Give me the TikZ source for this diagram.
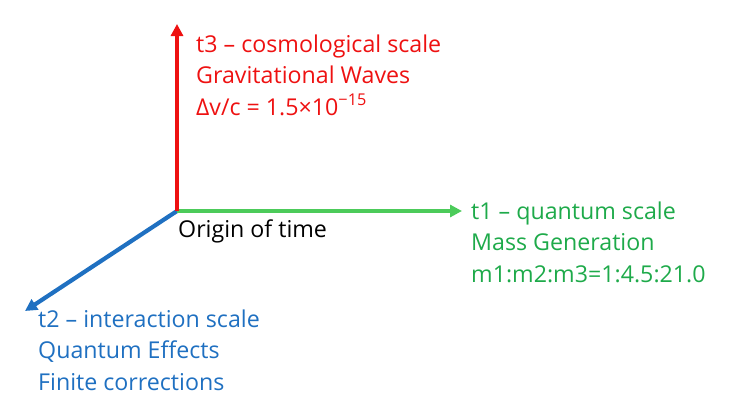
\documentclass[tikz,border=0pt]{standalone}
\usepackage{fontspec}
\setmainfont{Open Sans}
\usetikzlibrary{arrows.meta}
\definecolor{cosmored}{HTML}{EE1111}
\definecolor{quantgreen}{HTML}{4CCB5A}
\definecolor{quanttext}{HTML}{1EAA4A}
\definecolor{interblue}{HTML}{1F70C1}
\begin{document}
\begin{tikzpicture}[x=1pt, y=-1pt,
  axis/.style={-{Triangle[length=12pt,width=12pt]}, line width=4.2pt},
  scalelabel/.style={anchor=base west, align=left, inner sep=0pt,
                     font=\fontsize{23.2}{31.5}\selectfont}
]
\useasboundingbox (0,0) rectangle (732,405);
\coordinate (origin) at (177,211);
\coordinate (t1tip) at (462,211);
\coordinate (t2tip) at (25,311);
\coordinate (t3tip) at (177,24);
% the three time axes
\draw[axis, interblue] (origin) -- (t2tip);
\draw[axis, quantgreen] (origin) -- (t1tip);
\draw[axis, cosmored] (origin) -- (t3tip);
% labels, anchored at the baseline of their last line
\node[scalelabel, text=cosmored] (t3label) at (196,115) {%
  t3 -- cosmological scale\\
  Gravitational Waves\\
  Δv/c = 1.5×10\textsuperscript{−15}};
\node[scalelabel, text=quanttext] (t1label) at (471,282) {%
  t1 -- quantum scale\\
  Mass Generation\\
  m1:m2:m3=1:4.5:21.0};
\node[scalelabel, text=interblue] (t2label) at (38,390) {%
  t2 -- interaction scale\\
  Quantum Effects\\
  Finite corrections};
\node[scalelabel, text=black] (originlabel) at (178,237) {Origin of time};
\end{tikzpicture}
\end{document}
